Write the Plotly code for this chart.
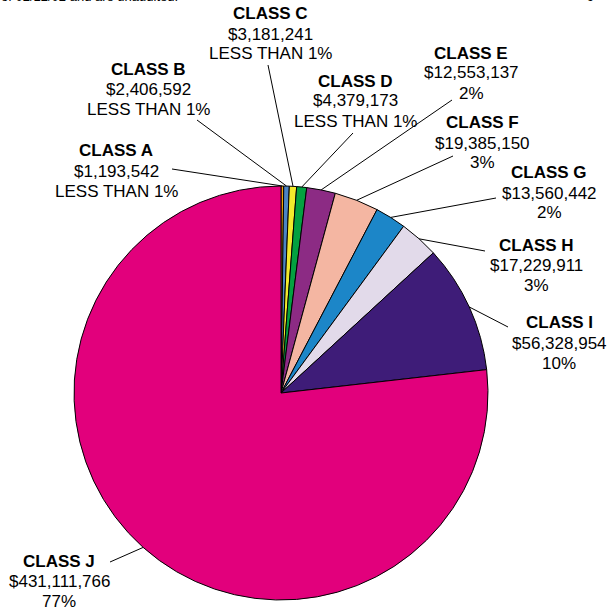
import math
import plotly.graph_objects as go

# ---- data ----
classes = ["CLASS A", "CLASS B", "CLASS C", "CLASS D", "CLASS E",
           "CLASS F", "CLASS G", "CLASS H", "CLASS I", "CLASS J"]
amounts = [1193542, 2406592, 3181241, 4379173, 12553137,
           19385150, 13560442, 17229911, 56328954, 431111766]
pct_labels = ["LESS THAN 1%", "LESS THAN 1%", "LESS THAN 1%", "LESS THAN 1%", "2%",
              "3%", "2%", "3%", "10%", "77%"]
colors = ["#F2A20C", "#4B84C4", "#F2EA2C", "#03A040", "#8C2B84",
          "#F4B6A2", "#1C86C8", "#E2DAEA", "#3E1C78", "#E2007C"]

W, H = 608, 615
CX, CY, R = 281, 393, 207
FONT = "Arial, Liberation Sans, sans-serif"
FS = 17
LINE = 20

# label block centres (pixels) and leader-line start points (pixels)
label_pos = [(116, 171), (148, 89), (270, 34), (355, 101), (471, 73),
             (482, 143), (549, 193), (536, 265), (559, 343), (59, 581)]
leader_start = [(172, 169), (197, 120), (268, 65), (353, 133), (452, 100),
                (453, 156), (496, 198), (485, 251), (508, 327), (110, 562)]

def px(x):
    return x / W

def py(y):
    return 1 - y / H

fig = go.Figure(go.Pie(
    labels=classes, values=amounts, sort=False, direction="clockwise", rotation=0,
    marker=dict(colors=colors, line=dict(color="black", width=1)),
    textinfo="none", hoverinfo="none", showlegend=False,
    domain=dict(x=[px(CX - R), px(CX + R)], y=[py(CY + R), py(CY - R)]),
))

total = sum(amounts)
cum = 0
shapes = []
annotations = []
for i, v in enumerate(amounts):
    theta = 2 * math.pi * (cum + v / 2) / total
    cum += v
    tx = CX + R * math.sin(theta)
    ty = CY - R * math.cos(theta)
    sx, sy = leader_start[i]
    shapes.append(dict(type="line", xref="paper", yref="paper",
                       x0=px(sx), y0=py(sy), x1=px(tx), y1=py(ty),
                       line=dict(color="black", width=1)))
    lx, ly = label_pos[i]
    lines = [f"<b>{classes[i]}</b>", f"${v:,}", pct_labels[i]]
    for k, t in enumerate(lines):
        annotations.append(dict(
            x=px(lx), y=py(ly + (k - 1) * LINE), xref="paper", yref="paper",
            showarrow=False, xanchor="center", yanchor="middle", align="center",
            text=t, font=dict(family=FONT, size=FS, color="black"),
        ))

# page header fragments cut at top edge (as in the reference)
annotations.append(dict(x=px(-1), y=py(-3), xref="paper", yref="paper", showarrow=False,
                        xanchor="left", yanchor="middle", text="of 02/12/02 and are unaudited.",
                        font=dict(family=FONT, size=13, color="black")))
annotations.append(dict(x=px(590), y=py(-3), xref="paper", yref="paper", showarrow=False,
                        xanchor="center", yanchor="middle", text="9",
                        font=dict(family=FONT, size=13, color="black")))

fig.update_layout(
    width=W, height=H, margin=dict(l=0, r=0, t=0, b=0),
    paper_bgcolor="white", plot_bgcolor="white",
    shapes=shapes, annotations=annotations,
)
fig.write_html("out.html", config={"displayModeBar": False},
               post_script="document.body.style.margin='0';document.body.style.overflow='hidden';")
